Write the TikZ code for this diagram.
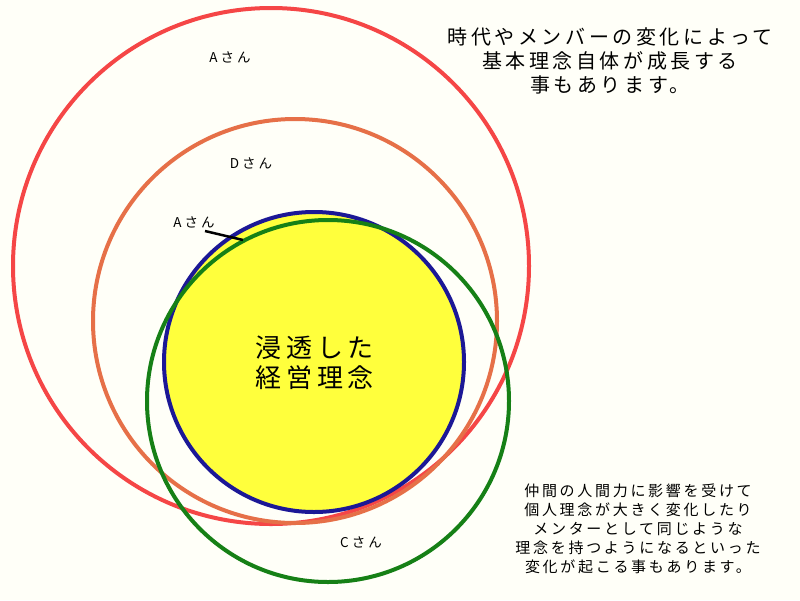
\documentclass[tikz,border=0pt]{standalone}
\usepackage{fontspec}
\newfontfamily\jp[LetterSpace=18]{Noto Sans CJK JP}
\newfontfamily\jpw[LetterSpace=22]{Noto Sans CJK JP}
\definecolor{bg}{RGB}{255,255,248}
\definecolor{cred}{RGB}{245,70,70}
\definecolor{corange}{RGB}{230,112,72}
\definecolor{cblue}{RGB}{28,24,150}
\definecolor{cgreen}{RGB}{22,128,22}
\definecolor{cyellow}{RGB}{255,255,60}
\begin{document}
\begin{tikzpicture}[x=1pt,y=-1pt,
  ring/.style={line width=4pt},
  lbl/.style={font=\jpw\fontsize{13.5}{15}\selectfont, inner sep=0pt},
  note/.style={font=\jp\fontsize{#1}{#1}\selectfont, align=center, inner sep=0pt},
]
\fill[bg] (0,0) rectangle (800,600);
\useasboundingbox (0,0) rectangle (800,600);
\draw[ring,cred] (271,266) circle (258);
\draw[ring,corange] (295,321) circle (202);
\draw[ring,cblue,fill=cyellow] (314,362) circle (150);
\draw[ring,cgreen] (328,401) circle (181);
\node[lbl] (a1) at (230,57) {Aさん};
\node[lbl] (d) at (251,163) {Dさん};
\node[lbl] (a2) at (194,222) {Aさん};
\node[lbl] (c) at (361,542) {Cさん};
\coordinate (p1) at (205,231);
\coordinate (p2) at (243,240);
\draw[line width=2.5pt] (p1) -- (p2);
\node[note=26, text width=200pt] (center) at (315,363) {浸透した\\[4pt]経営理念};
\node[note=20, text width=360pt] (top) at (610,61) {時代やメンバーの変化によって\\[4pt]基本理念自体が成長する\\[4pt]事もあります。};
\node[note=15, text width=300pt] (bottom) at (638,529) {仲間の人間力に影響を受けて\\[4pt]個人理念が大きく変化したり\\[4pt]メンターとして同じような\\[4pt]理念を持つようになるといった\\[4pt]変化が起こる事もあります。};
\end{tikzpicture}
\end{document}
